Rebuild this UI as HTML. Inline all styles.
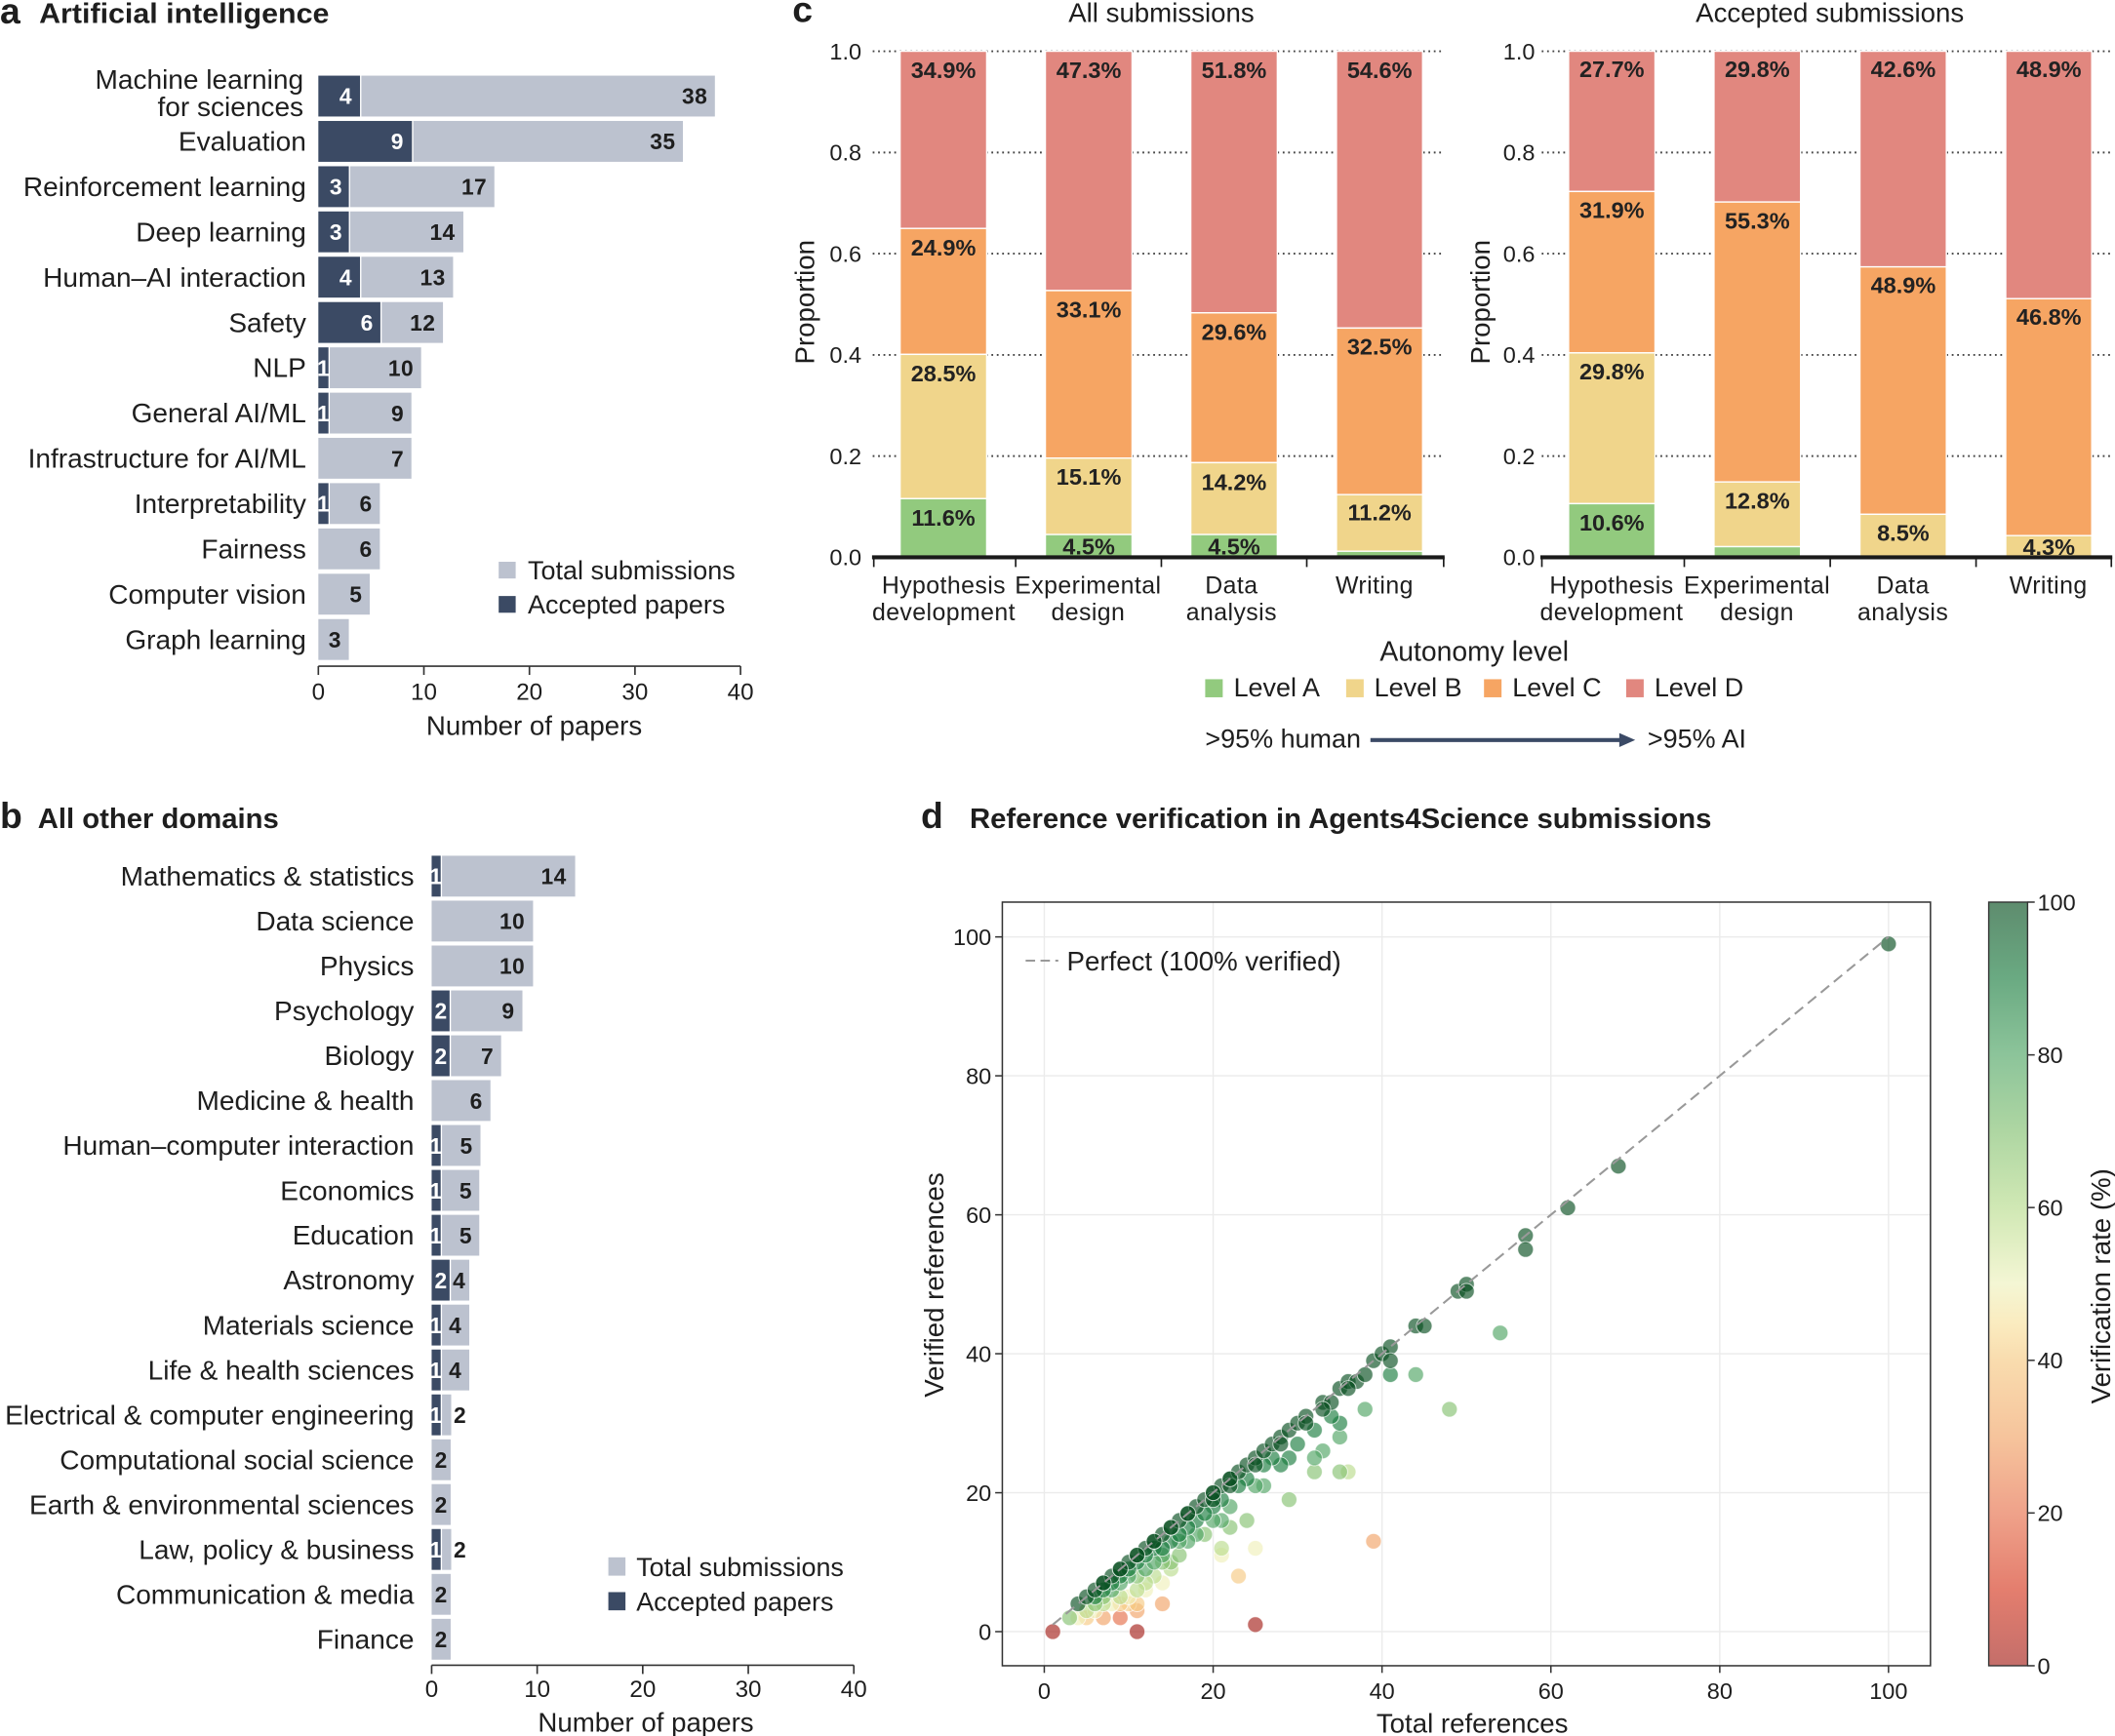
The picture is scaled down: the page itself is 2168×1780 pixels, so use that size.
<!DOCTYPE html>
<html><head><meta charset="utf-8"><style>
html,body{margin:0;padding:0;background:#fff;}
svg{display:block;}
text{font-family:"Liberation Sans",Arial,sans-serif;fill:#1e1e1e;}
.lab{font-size:20.3px;text-anchor:end;}
.nb{font-size:16.5px;font-weight:bold;letter-spacing:0.3px;}
.nw{font-size:16.5px;font-weight:bold;fill:#fff;}
.tk{font-size:17.5px;text-anchor:middle;}
.pc{font-size:17px;font-weight:bold;text-anchor:middle;fill:#222;}
.cat{font-size:18px;text-anchor:middle;letter-spacing:0.3px;}
.ytk{font-size:17px;text-anchor:end;}
.dtk{font-size:17px;}
</style></head><body>
<svg xmlns="http://www.w3.org/2000/svg" width="2168" height="1780" viewBox="0 0 1568 1287.4">
<defs>
<linearGradient id="cb" x1="0" y1="0" x2="0" y2="1">
<stop offset="0" stop-color="#5e8c6e"/>
<stop offset="0.1" stop-color="#6aaa82"/>
<stop offset="0.2" stop-color="#8cc49a"/>
<stop offset="0.3" stop-color="#aed6a2"/>
<stop offset="0.4" stop-color="#d0e8b4"/>
<stop offset="0.5" stop-color="#f4f6d4"/>
<stop offset="0.55" stop-color="#faecc0"/>
<stop offset="0.6" stop-color="#f9dcae"/>
<stop offset="0.7" stop-color="#f6c49c"/>
<stop offset="0.8" stop-color="#efa28a"/>
<stop offset="0.9" stop-color="#e47e6e"/>
<stop offset="1" stop-color="#c46e6a"/>
</linearGradient>
</defs>

<!-- ================= PANEL A ================= -->
<text x="0" y="17.5" font-size="27" font-weight="bold">a</text>
<text x="29" y="17" font-size="21" font-weight="bold" textLength="215" lengthAdjust="spacingAndGlyphs">Artificial intelligence</text>

<g fill="#bcc2cf">
<rect x="267.9" y="56.1" width="262.1" height="30.3"/>
<rect x="306.4" y="89.7" width="199.9" height="30.3"/>
<rect x="259.6" y="123.3" width="106.9" height="30.3"/>
<rect x="259.6" y="156.8" width="83.9" height="30.3"/>
<rect x="267.9" y="190.4" width="68" height="30.3"/>
<rect x="283" y="224" width="45.4" height="30.3"/>
<rect x="244.5" y="257.6" width="67.7" height="30.3"/>
<rect x="244.5" y="291.2" width="60.5" height="30.3"/>
<rect x="236" y="324.7" width="69" height="30.3"/>
<rect x="244.5" y="358.3" width="37.1" height="30.3"/>
<rect x="236" y="391.9" width="45.6" height="30.3"/>
<rect x="236" y="425.5" width="38.1" height="30.3"/>
<rect x="236" y="459.1" width="22.6" height="30.3"/>
</g>
<g fill="#3b4a64">
<rect x="236" y="56.1" width="30.9" height="30.3"/>
<rect x="236" y="89.7" width="69.4" height="30.3"/>
<rect x="236" y="123.3" width="22.6" height="30.3"/>
<rect x="236" y="156.8" width="22.6" height="30.3"/>
<rect x="236" y="190.4" width="30.9" height="30.3"/>
<rect x="236" y="224" width="46" height="30.3"/>
<rect x="236" y="257.6" width="7.5" height="30.3"/>
<rect x="236" y="291.2" width="7.5" height="30.3"/>
<rect x="236" y="358.3" width="7.5" height="30.3"/>
</g>
<g class="lab">
<text class="lab" x="225" y="65.9">Machine learning</text>
<text class="lab" x="225" y="86.1">for sciences</text>
<text class="lab" x="227" y="111.8">Evaluation</text>
<text class="lab" x="227" y="145.4">Reinforcement learning</text>
<text class="lab" x="227" y="179">Deep learning</text>
<text class="lab" x="227" y="212.5">Human–AI interaction</text>
<text class="lab" x="227" y="246.1">Safety</text>
<text class="lab" x="227" y="279.7">NLP</text>
<text class="lab" x="227" y="313.3">General AI/ML</text>
<text class="lab" x="227" y="346.9">Infrastructure for AI/ML</text>
<text class="lab" x="227" y="380.4">Interpretability</text>
<text class="lab" x="227" y="414">Fairness</text>
<text class="lab" x="227" y="447.6">Computer vision</text>
<text class="lab" x="227" y="481.2">Graph learning</text>
</g>
<g text-anchor="end">
<text class="nw" x="260.8" y="77.2">4</text>
<text class="nb" x="524.5" y="77.2">38</text>
<text class="nw" x="299" y="110.8">9</text>
<text class="nb" x="500.8" y="110.8">35</text>
<text class="nw" x="253.5" y="144.4">3</text>
<text class="nb" x="361" y="144.4">17</text>
<text class="nw" x="253.5" y="178">3</text>
<text class="nb" x="337.5" y="178">14</text>
<text class="nw" x="260.8" y="211.5">4</text>
<text class="nb" x="330.3" y="211.5">13</text>
<text class="nw" x="276.5" y="245.1">6</text>
<text class="nb" x="322.8" y="245.1">12</text>
<text class="nb" x="306.7" y="278.7">10</text>
<text class="nb" x="299.5" y="312.3">9</text>
<text class="nb" x="299.5" y="345.9">7</text>
<text class="nb" x="276" y="379.4">6</text>
<text class="nb" x="276" y="413">6</text>
<text class="nb" x="268.6" y="446.6">5</text>
<text class="nb" x="253" y="480.2">3</text>
</g>
<g text-anchor="middle">
<text class="nw" x="239.6" y="278.7" text-anchor="middle">1</text>
<text class="nw" x="239.6" y="312.3" text-anchor="middle">1</text>
<text class="nw" x="239.6" y="379.4" text-anchor="middle">1</text>
</g>
<rect x="369.7" y="416.6" width="12.6" height="12.4" fill="#bcc2cf"/>
<text x="391.3" y="429.5" font-size="19.5">Total submissions</text>
<rect x="369.7" y="442" width="12.6" height="12.4" fill="#3b4a64"/>
<text x="391.3" y="455" font-size="19.5">Accepted papers</text>
<g stroke="#333" stroke-width="1.2">
<line x1="236" y1="494" x2="549" y2="494"/>
<line x1="236" y1="494" x2="236" y2="500.5"/>
<line x1="314.25" y1="494" x2="314.25" y2="500.5"/>
<line x1="392.5" y1="494" x2="392.5" y2="500.5"/>
<line x1="470.75" y1="494" x2="470.75" y2="500.5"/>
<line x1="549" y1="494" x2="549" y2="500.5"/>
</g>
<text class="tk" x="236" y="519">0</text>
<text class="tk" x="314.25" y="519">10</text>
<text class="tk" x="392.5" y="519">20</text>
<text class="tk" x="470.75" y="519">30</text>
<text class="tk" x="549" y="519">40</text>
<text x="396" y="545" font-size="20" text-anchor="middle">Number of papers</text>

<!-- ================= PANEL B ================= -->
<text x="0" y="614" font-size="27" font-weight="bold">b</text>
<text x="28" y="614" font-size="21" font-weight="bold" textLength="178.7" lengthAdjust="spacingAndGlyphs">All other domains</text>
<g fill="#bcc2cf">
<rect x="327.7" y="634.6" width="98.7" height="30.3"/>
<rect x="320" y="667.9" width="75.2" height="30.3"/>
<rect x="320" y="701.2" width="75.2" height="30.3"/>
<rect x="334.3" y="734.5" width="53" height="30.3"/>
<rect x="334.3" y="767.8" width="37.2" height="30.3"/>
<rect x="320" y="801" width="43.6" height="30.3"/>
<rect x="327.7" y="834.3" width="28.5" height="30.3"/>
<rect x="327.7" y="867.6" width="27.6" height="30.3"/>
<rect x="327.7" y="900.9" width="27.6" height="30.3"/>
<rect x="334.3" y="934.2" width="13.6" height="30.3"/>
<rect x="327.7" y="967.5" width="20.2" height="30.3"/>
<rect x="327.7" y="1000.8" width="20.2" height="30.3"/>
<rect x="327.7" y="1034.1" width="6.8" height="30.3"/>
<rect x="320" y="1067.4" width="14.1" height="30.3"/>
<rect x="320" y="1100.6" width="14.1" height="30.3"/>
<rect x="327.7" y="1133.9" width="6.8" height="30.3"/>
<rect x="320" y="1167.2" width="14.1" height="30.3"/>
<rect x="320" y="1200.5" width="14.1" height="30.3"/>
</g>
<g fill="#3b4a64">
<rect x="320" y="634.6" width="6.7" height="30.3"/>
<rect x="320" y="734.5" width="13.3" height="30.3"/>
<rect x="320" y="767.8" width="13.3" height="30.3"/>
<rect x="320" y="834.3" width="6.7" height="30.3"/>
<rect x="320" y="867.6" width="6.7" height="30.3"/>
<rect x="320" y="900.9" width="6.7" height="30.3"/>
<rect x="320" y="934.2" width="13.3" height="30.3"/>
<rect x="320" y="967.5" width="6.7" height="30.3"/>
<rect x="320" y="1000.8" width="6.7" height="30.3"/>
<rect x="320" y="1034.1" width="6.7" height="30.3"/>
<rect x="320" y="1133.9" width="6.7" height="30.3"/>
</g>
<text class="lab" x="307" y="656.75">Mathematics &amp; statistics</text>
<text class="lab" x="307" y="690">Data science</text>
<text class="lab" x="307" y="723.3">Physics</text>
<text class="lab" x="307" y="756.6">Psychology</text>
<text class="lab" x="307" y="789.9">Biology</text>
<text class="lab" x="307" y="823.2">Medicine &amp; health</text>
<text class="lab" x="307" y="856.5">Human–computer interaction</text>
<text class="lab" x="307" y="889.8">Economics</text>
<text class="lab" x="307" y="923">Education</text>
<text class="lab" x="307" y="956.3">Astronomy</text>
<text class="lab" x="307" y="989.6">Materials science</text>
<text class="lab" x="307" y="1022.9">Life &amp; health sciences</text>
<text class="lab" x="307" y="1056.2">Electrical &amp; computer engineering</text>
<text class="lab" x="307" y="1089.5">Computational social science</text>
<text class="lab" x="307" y="1122.8">Earth &amp; environmental sciences</text>
<text class="lab" x="307" y="1156.1">Law, policy &amp; business</text>
<text class="lab" x="307" y="1189.4">Communication &amp; media</text>
<text class="lab" x="307" y="1222.7">Finance</text>
<g text-anchor="end">
<text class="nb" x="420" y="655.75">14</text>
<text class="nb" x="389.2" y="689">10</text>
<text class="nb" x="389.2" y="722.3">10</text>
<text class="nb" x="381.5" y="755.6">9</text>
<text class="nb" x="366" y="788.9">7</text>
<text class="nb" x="357.8" y="822.2">6</text>
<text class="nb" x="350.5" y="855.5">5</text>
<text class="nb" x="350" y="888.8">5</text>
<text class="nb" x="350" y="922">5</text>
</g>
<g text-anchor="middle">
<text class="nb" x="340.4" y="955.3" text-anchor="middle">4</text>
<text class="nb" x="337.5" y="988.6" text-anchor="middle">4</text>
<text class="nb" x="337.5" y="1021.9" text-anchor="middle">4</text>
<text class="nb" x="341" y="1055.2" text-anchor="middle">2</text>
<text class="nb" x="327" y="1088.5" text-anchor="middle">2</text>
<text class="nb" x="327" y="1121.8" text-anchor="middle">2</text>
<text class="nb" x="341" y="1155.1" text-anchor="middle">2</text>
<text class="nb" x="327" y="1188.4" text-anchor="middle">2</text>
<text class="nb" x="327" y="1221.7" text-anchor="middle">2</text>
<text class="nw" x="323" y="655.75" text-anchor="middle">1</text>
<text class="nw" x="326.8" y="755.6" text-anchor="middle">2</text>
<text class="nw" x="326.8" y="788.9" text-anchor="middle">2</text>
<text class="nw" x="323" y="855.5" text-anchor="middle">1</text>
<text class="nw" x="323" y="888.8" text-anchor="middle">1</text>
<text class="nw" x="323" y="922" text-anchor="middle">1</text>
<text class="nw" x="326.8" y="955.3" text-anchor="middle">2</text>
<text class="nw" x="323" y="988.6" text-anchor="middle">1</text>
<text class="nw" x="323" y="1021.9" text-anchor="middle">1</text>
<text class="nw" x="323" y="1055.2" text-anchor="middle">1</text>
<text class="nw" x="323" y="1155.1" text-anchor="middle">1</text>
</g>
<rect x="451" y="1154.9" width="12.7" height="13.6" fill="#bcc2cf"/>
<text x="471.7" y="1168.7" font-size="19.5">Total submissions</text>
<rect x="451" y="1180.7" width="12.7" height="13.5" fill="#3b4a64"/>
<text x="471.7" y="1194.5" font-size="19.5">Accepted papers</text>
<g stroke="#333" stroke-width="1.2">
<line x1="320" y1="1234.9" x2="633" y2="1234.9"/>
<line x1="320" y1="1234.9" x2="320" y2="1241.4"/>
<line x1="398.25" y1="1234.9" x2="398.25" y2="1241.4"/>
<line x1="476.5" y1="1234.9" x2="476.5" y2="1241.4"/>
<line x1="554.75" y1="1234.9" x2="554.75" y2="1241.4"/>
<line x1="633" y1="1234.9" x2="633" y2="1241.4"/>
</g>
<text class="tk" x="320" y="1258.5">0</text>
<text class="tk" x="398.25" y="1258.5">10</text>
<text class="tk" x="476.5" y="1258.5">20</text>
<text class="tk" x="554.75" y="1258.5">30</text>
<text class="tk" x="633" y="1258.5">40</text>
<text x="478.8" y="1284" font-size="20" text-anchor="middle">Number of papers</text>

<!-- ================= PANEL C ================= -->
<text x="587.5" y="16.3" font-size="27" font-weight="bold">c</text>
<text x="861" y="16.3" font-size="20" text-anchor="middle">All submissions</text>
<text x="1356.6" y="16.3" font-size="20" text-anchor="middle">Accepted submissions</text>

<g stroke="#444" stroke-width="1.4" stroke-dasharray="1.3 2.7">
<line x1="647" y1="38" x2="1070" y2="38"/>
<line x1="647" y1="113.1" x2="1070" y2="113.1"/>
<line x1="647" y1="188.1" x2="1070" y2="188.1"/>
<line x1="647" y1="263.2" x2="1070" y2="263.2"/>
<line x1="647" y1="338.2" x2="1070" y2="338.2"/>
<line x1="1143" y1="38" x2="1566" y2="38"/>
<line x1="1143" y1="113.1" x2="1566" y2="113.1"/>
<line x1="1143" y1="188.1" x2="1566" y2="188.1"/>
<line x1="1143" y1="263.2" x2="1566" y2="263.2"/>
<line x1="1143" y1="338.2" x2="1566" y2="338.2"/>
</g>
<g class="ytk">
<text class="ytk" x="638.7" y="44">1.0</text>
<text class="ytk" x="638.7" y="119.1">0.8</text>
<text class="ytk" x="638.7" y="194.1">0.6</text>
<text class="ytk" x="638.7" y="269.2">0.4</text>
<text class="ytk" x="638.7" y="344.2">0.2</text>
<text class="ytk" x="638.7" y="419.3">0.0</text>
<text class="ytk" x="1138" y="44">1.0</text>
<text class="ytk" x="1138" y="119.1">0.8</text>
<text class="ytk" x="1138" y="194.1">0.6</text>
<text class="ytk" x="1138" y="269.2">0.4</text>
<text class="ytk" x="1138" y="344.2">0.2</text>
<text class="ytk" x="1138" y="419.3">0.0</text>
</g>
<text transform="translate(603.5,224) rotate(-90)" font-size="20" text-anchor="middle">Proportion</text>
<text transform="translate(1104.5,224) rotate(-90)" font-size="20" text-anchor="middle">Proportion</text>

<g stroke="#fff" stroke-width="1">
<rect x="667.3" y="38" width="64.2" height="131.4" fill="#e1877f"/>
<rect x="667.3" y="169.4" width="64.2" height="93.4" fill="#f6a563"/>
<rect x="667.3" y="262.8" width="64.2" height="107" fill="#f0d58b"/>
<rect x="667.3" y="369.8" width="64.2" height="43.5" fill="#92ca7e"/>
<rect x="775" y="38" width="64.3" height="177.5" fill="#e1877f"/>
<rect x="775" y="215.5" width="64.3" height="124.2" fill="#f6a563"/>
<rect x="775" y="339.7" width="64.3" height="56.7" fill="#f0d58b"/>
<rect x="775" y="396.4" width="64.3" height="16.9" fill="#92ca7e"/>
<rect x="882.8" y="38" width="64.2" height="194" fill="#e1877f"/>
<rect x="882.8" y="232" width="64.2" height="111.1" fill="#f6a563"/>
<rect x="882.8" y="343.1" width="64.2" height="53.3" fill="#f0d58b"/>
<rect x="882.8" y="396.4" width="64.2" height="16.9" fill="#92ca7e"/>
<rect x="990.8" y="38" width="63.9" height="205.3" fill="#e1877f"/>
<rect x="990.8" y="243.3" width="63.9" height="123.5" fill="#f6a563"/>
<rect x="990.8" y="366.8" width="63.9" height="42" fill="#f0d58b"/>
<rect x="990.8" y="408.8" width="63.9" height="4.5" fill="#92ca7e"/>
<rect x="1162.9" y="38" width="64.1" height="104" fill="#e1877f"/>
<rect x="1162.9" y="142" width="64.1" height="119.7" fill="#f6a563"/>
<rect x="1162.9" y="261.7" width="64.1" height="111.8" fill="#f0d58b"/>
<rect x="1162.9" y="373.5" width="64.1" height="39.8" fill="#92ca7e"/>
<rect x="1270.7" y="38" width="64.2" height="111.8" fill="#e1877f"/>
<rect x="1270.7" y="149.8" width="64.2" height="207.6" fill="#f6a563"/>
<rect x="1270.7" y="357.4" width="64.2" height="48" fill="#f0d58b"/>
<rect x="1270.7" y="405.4" width="64.2" height="7.9" fill="#92ca7e"/>
<rect x="1378.9" y="38" width="64.1" height="159.9" fill="#e1877f"/>
<rect x="1378.9" y="197.9" width="64.1" height="183.5" fill="#f6a563"/>
<rect x="1378.9" y="381.4" width="64.1" height="31.9" fill="#f0d58b"/>
<rect x="1487" y="38" width="63.8" height="183.5" fill="#e1877f"/>
<rect x="1487" y="221.5" width="63.8" height="175.7" fill="#f6a563"/>
<rect x="1487" y="397.2" width="63.8" height="16.1" fill="#f0d58b"/>
</g>
<g class="pc">
<text class="pc" x="699.4" y="58">34.9%</text>
<text class="pc" x="699.4" y="189.4">24.9%</text>
<text class="pc" x="699.4" y="282.8">28.5%</text>
<text class="pc" x="699.4" y="389.8">11.6%</text>
<text class="pc" x="807.2" y="58">47.3%</text>
<text class="pc" x="807.2" y="235.5">33.1%</text>
<text class="pc" x="807.2" y="359.3">15.1%</text>
<text class="pc" x="807.2" y="411">4.5%</text>
<text class="pc" x="914.9" y="58">51.8%</text>
<text class="pc" x="914.9" y="252">29.6%</text>
<text class="pc" x="914.9" y="363.5">14.2%</text>
<text class="pc" x="914.9" y="411">4.5%</text>
<text class="pc" x="1022.8" y="58">54.6%</text>
<text class="pc" x="1022.8" y="263">32.5%</text>
<text class="pc" x="1022.8" y="386">11.2%</text>
<text class="pc" x="1195" y="57">27.7%</text>
<text class="pc" x="1195" y="161.5">31.9%</text>
<text class="pc" x="1195" y="281.5">29.8%</text>
<text class="pc" x="1195" y="393.5">10.6%</text>
<text class="pc" x="1302.8" y="57">29.8%</text>
<text class="pc" x="1302.8" y="169.5">55.3%</text>
<text class="pc" x="1302.8" y="377">12.8%</text>
<text class="pc" x="1411" y="57">42.6%</text>
<text class="pc" x="1411" y="217.5">48.9%</text>
<text class="pc" x="1411" y="401">8.5%</text>
<text class="pc" x="1519" y="57">48.9%</text>
<text class="pc" x="1519" y="241">46.8%</text>
<text class="pc" x="1519" y="411.5">4.3%</text>
</g>
<g stroke="#1a1a1a">
<line x1="646.5" y1="413.3" x2="1071" y2="413.3" stroke-width="3"/>
<line x1="1142" y1="413.3" x2="1566" y2="413.3" stroke-width="3"/>
<g stroke-width="1.2">
<line x1="647.8" y1="413" x2="647.8" y2="420.5"/>
<line x1="753" y1="413" x2="753" y2="420.5"/>
<line x1="861" y1="413" x2="861" y2="420.5"/>
<line x1="968.8" y1="413" x2="968.8" y2="420.5"/>
<line x1="1070.3" y1="413" x2="1070.3" y2="420.5"/>
<line x1="1143.1" y1="413" x2="1143.1" y2="420.5"/>
<line x1="1248.7" y1="413" x2="1248.7" y2="420.5"/>
<line x1="1356.9" y1="413" x2="1356.9" y2="420.5"/>
<line x1="1465" y1="413" x2="1465" y2="420.5"/>
<line x1="1565.3" y1="413" x2="1565.3" y2="420.5"/>
</g>
</g>
<g class="cat">
<text class="cat" x="699.7" y="440">Hypothesis</text>
<text class="cat" x="699.7" y="460">development</text>
<text class="cat" x="806.7" y="440">Experimental</text>
<text class="cat" x="806.7" y="460">design</text>
<text class="cat" x="913" y="440">Data</text>
<text class="cat" x="913" y="460">analysis</text>
<text class="cat" x="1019" y="440">Writing</text>
<text class="cat" x="1194.8" y="440">Hypothesis</text>
<text class="cat" x="1194.8" y="460">development</text>
<text class="cat" x="1302.6" y="440">Experimental</text>
<text class="cat" x="1302.6" y="460">design</text>
<text class="cat" x="1410.8" y="440">Data</text>
<text class="cat" x="1410.8" y="460">analysis</text>
<text class="cat" x="1518.6" y="440">Writing</text>
</g>
<text x="1093" y="490" font-size="20.5" text-anchor="middle">Autonomy level</text>
<rect x="893.5" y="503.7" width="13" height="13.4" fill="#92ca7e"/>
<text x="914.6" y="516.5" font-size="19.5">Level A</text>
<rect x="998" y="503.7" width="13" height="13.4" fill="#f0d58b"/>
<text x="1018.8" y="516.5" font-size="19.5">Level B</text>
<rect x="1100.2" y="503.7" width="13" height="13.4" fill="#f6a563"/>
<text x="1121.2" y="516.5" font-size="19.5">Level C</text>
<rect x="1205.6" y="503.7" width="13" height="13.4" fill="#e1877f"/>
<text x="1226.5" y="516.5" font-size="19.5">Level D</text>
<text x="893.5" y="554.5" font-size="19.5">&gt;95% human</text>
<line x1="1016" y1="548.8" x2="1203" y2="548.8" stroke="#3b4a66" stroke-width="3"/>
<polygon points="1212.3,548.8 1200.5,543.6 1200.5,554" fill="#3b4a66"/>
<text x="1221.5" y="554.5" font-size="19.5">&gt;95% AI</text>

<!-- ================= PANEL D ================= -->
<text x="682.7" y="614" font-size="27" font-weight="bold">d</text>
<text x="718.9" y="614" font-size="21" font-weight="bold" textLength="550" lengthAdjust="spacingAndGlyphs">Reference verification in Agents4Science submissions</text>

<g stroke="#ebebeb" stroke-width="1">
<line x1="774.2" y1="669" x2="774.2" y2="1235.3"/>
<line x1="899.4" y1="669" x2="899.4" y2="1235.3"/>
<line x1="1024.6" y1="669" x2="1024.6" y2="1235.3"/>
<line x1="1149.8" y1="669" x2="1149.8" y2="1235.3"/>
<line x1="1275" y1="669" x2="1275" y2="1235.3"/>
<line x1="1400.1" y1="669" x2="1400.1" y2="1235.3"/>
<line x1="743.1" y1="694.8" x2="1431.2" y2="694.8"/>
<line x1="743.1" y1="797.8" x2="1431.2" y2="797.8"/>
<line x1="743.1" y1="900.9" x2="1431.2" y2="900.9"/>
<line x1="743.1" y1="1003.9" x2="1431.2" y2="1003.9"/>
<line x1="743.1" y1="1107" x2="1431.2" y2="1107"/>
<line x1="743.1" y1="1210" x2="1431.2" y2="1210"/>
</g>

<g fill-opacity="0.65" stroke="#fff" stroke-width="0.7" stroke-opacity="0.7">
<g fill="#a4201a">
<circle cx="780.5" cy="1210" r="5.8"/><circle cx="843" cy="1210" r="5.8"/><circle cx="930.7" cy="1204.8" r="5.8"/>
</g>
<g fill="#e56e4a"><circle cx="830.5" cy="1199.7" r="5.8"/></g>
<g fill="#f1a367">
<circle cx="818" cy="1199.7" r="5.8"/><circle cx="843" cy="1194.5" r="5.8"/><circle cx="861.8" cy="1189.4" r="5.8"/><circle cx="1018.3" cy="1143" r="5.8"/>
</g>
<g fill="#f6c982">
<circle cx="918.2" cy="1168.8" r="5.8"/><circle cx="836.8" cy="1189.4" r="5.8"/><circle cx="843" cy="1189.4" r="5.8"/><circle cx="805.5" cy="1199.7" r="5.8"/><circle cx="830.5" cy="1189.4" r="5.8"/>
</g>
<g fill="#f0f0ba">
<circle cx="930.7" cy="1148.2" r="5.8"/><circle cx="905.6" cy="1153.3" r="5.8"/><circle cx="824.3" cy="1189.4" r="5.8"/><circle cx="836.8" cy="1184.2" r="5.8"/><circle cx="849.3" cy="1179.1" r="5.8"/><circle cx="861.8" cy="1173.9" r="5.8"/><circle cx="811.8" cy="1194.5" r="5.8"/><circle cx="799.2" cy="1199.7" r="5.8"/>
</g>
<g fill="#badc8d">
<circle cx="805.5" cy="1194.5" r="5.8"/><circle cx="905.6" cy="1148.2" r="5.8"/><circle cx="868.1" cy="1163.6" r="5.8"/><circle cx="855.6" cy="1168.8" r="5.8"/><circle cx="849.3" cy="1173.9" r="5.8"/><circle cx="830.5" cy="1184.2" r="5.8"/><circle cx="999.5" cy="1091.5" r="5.8"/><circle cx="818" cy="1189.4" r="5.8"/><circle cx="843" cy="1179.1" r="5.8"/>
</g>
<g fill="#86c272">
<circle cx="793" cy="1199.7" r="5.8"/><circle cx="924.4" cy="1127.6" r="5.8"/><circle cx="955.7" cy="1112.1" r="5.8"/><circle cx="911.9" cy="1132.7" r="5.8"/><circle cx="868.1" cy="1158.5" r="5.8"/><circle cx="874.3" cy="1153.3" r="5.8"/><circle cx="993.3" cy="1091.5" r="5.8"/><circle cx="974.5" cy="1091.5" r="5.8"/><circle cx="1074.6" cy="1045.1" r="5.8"/><circle cx="893.1" cy="1137.9" r="5.8"/><circle cx="843" cy="1168.8" r="5.8"/><circle cx="861.8" cy="1158.5" r="5.8"/><circle cx="818" cy="1184.2" r="5.8"/><circle cx="811.8" cy="1189.4" r="5.8"/>
</g>
<g fill="#50a464">
<circle cx="905.6" cy="1127.6" r="5.8"/><circle cx="886.9" cy="1137.9" r="5.8"/><circle cx="1112.2" cy="988.5" r="5.8"/><circle cx="1012" cy="1045.1" r="5.8"/><circle cx="980.7" cy="1076" r="5.8"/><circle cx="974.5" cy="1081.2" r="5.8"/><circle cx="993.3" cy="1065.7" r="5.8"/><circle cx="899.4" cy="1127.6" r="5.8"/><circle cx="880.6" cy="1143" r="5.8"/><circle cx="861.8" cy="1153.3" r="5.8"/><circle cx="849.3" cy="1163.6" r="5.8"/><circle cx="836.8" cy="1168.8" r="5.8"/><circle cx="874.3" cy="1143" r="5.8"/><circle cx="911.9" cy="1117.3" r="5.8"/><circle cx="936.9" cy="1101.8" r="5.8"/><circle cx="930.7" cy="1101.8" r="5.8"/><circle cx="1049.6" cy="1019.4" r="5.8"/><circle cx="824.3" cy="1179.1" r="5.8"/><circle cx="855.6" cy="1158.5" r="5.8"/><circle cx="830.5" cy="1173.9" r="5.8"/>
</g>
<g fill="#1a7c3f">
<circle cx="1030.8" cy="1019.4" r="5.8"/><circle cx="993.3" cy="1055.4" r="5.8"/><circle cx="962" cy="1070.9" r="5.8"/><circle cx="974.5" cy="1060.6" r="5.8"/><circle cx="987" cy="1050.3" r="5.8"/><circle cx="955.7" cy="1081.2" r="5.8"/><circle cx="949.5" cy="1086.4" r="5.8"/><circle cx="855.6" cy="1148.2" r="5.8"/><circle cx="924.4" cy="1096.7" r="5.8"/><circle cx="918.2" cy="1101.8" r="5.8"/><circle cx="905.6" cy="1112.1" r="5.8"/><circle cx="886.9" cy="1127.6" r="5.8"/><circle cx="880.6" cy="1132.7" r="5.8"/><circle cx="868.1" cy="1143" r="5.8"/><circle cx="843" cy="1158.5" r="5.8"/><circle cx="830.5" cy="1168.8" r="5.8"/><circle cx="943.2" cy="1081.2" r="5.8"/><circle cx="936.9" cy="1086.4" r="5.8"/><circle cx="899.4" cy="1117.3" r="5.8"/><circle cx="874.3" cy="1137.9" r="5.8"/><circle cx="861.8" cy="1148.2" r="5.8"/><circle cx="849.3" cy="1153.3" r="5.8"/><circle cx="836.8" cy="1163.6" r="5.8"/><circle cx="824.3" cy="1173.9" r="5.8"/><circle cx="893.1" cy="1122.4" r="5.8"/><circle cx="811.8" cy="1184.2" r="5.8"/><circle cx="818" cy="1179.1" r="5.8"/>
</g>
<g fill="#074e20">
<circle cx="799.2" cy="1189.4" r="5.8"/><circle cx="805.5" cy="1184.2" r="5.8"/><circle cx="811.8" cy="1179.1" r="5.8"/><circle cx="818" cy="1173.9" r="5.8"/><circle cx="824.3" cy="1168.8" r="5.8"/><circle cx="830.5" cy="1163.6" r="5.8"/><circle cx="836.8" cy="1158.5" r="5.8"/><circle cx="843" cy="1153.3" r="5.8"/><circle cx="849.3" cy="1148.2" r="5.8"/><circle cx="855.6" cy="1143" r="5.8"/><circle cx="861.8" cy="1137.9" r="5.8"/><circle cx="868.1" cy="1132.7" r="5.8"/><circle cx="874.3" cy="1127.6" r="5.8"/><circle cx="880.6" cy="1122.4" r="5.8"/><circle cx="886.9" cy="1117.3" r="5.8"/><circle cx="893.1" cy="1112.1" r="5.8"/><circle cx="899.4" cy="1107" r="5.8"/><circle cx="905.6" cy="1101.8" r="5.8"/><circle cx="911.9" cy="1096.7" r="5.8"/><circle cx="918.2" cy="1091.5" r="5.8"/><circle cx="924.4" cy="1086.4" r="5.8"/><circle cx="930.7" cy="1081.2" r="5.8"/><circle cx="936.9" cy="1076" r="5.8"/><circle cx="943.2" cy="1070.9" r="5.8"/><circle cx="949.5" cy="1065.7" r="5.8"/><circle cx="955.7" cy="1060.6" r="5.8"/><circle cx="962" cy="1055.4" r="5.8"/><circle cx="968.2" cy="1050.3" r="5.8"/><circle cx="980.7" cy="1040" r="5.8"/><circle cx="987" cy="1040" r="5.8"/><circle cx="980.7" cy="1045.1" r="5.8"/><circle cx="993.3" cy="1029.7" r="5.8"/><circle cx="999.5" cy="1024.5" r="5.8"/><circle cx="1005.8" cy="1024.5" r="5.8"/><circle cx="1012" cy="1019.4" r="5.8"/><circle cx="1018.3" cy="1009.1" r="5.8"/><circle cx="1024.6" cy="1003.9" r="5.8"/><circle cx="1030.8" cy="998.8" r="5.8"/><circle cx="1030.8" cy="1009.1" r="5.8"/><circle cx="1049.6" cy="983.3" r="5.8"/><circle cx="1055.9" cy="983.3" r="5.8"/><circle cx="1080.9" cy="957.6" r="5.8"/><circle cx="1087.2" cy="952.4" r="5.8"/><circle cx="1087.2" cy="957.6" r="5.8"/><circle cx="1131" cy="916.3" r="5.8"/><circle cx="1131" cy="926.6" r="5.8"/><circle cx="1162.3" cy="895.7" r="5.8"/><circle cx="1199.8" cy="864.8" r="5.8"/><circle cx="1400.1" cy="700" r="5.8"/>
<circle cx="899.4" cy="1112.1" r="5.8"/><circle cx="911.9" cy="1101.8" r="5.8"/><circle cx="930.7" cy="1086.4" r="5.8"/><circle cx="949.5" cy="1070.9" r="5.8"/><circle cx="968.2" cy="1055.4" r="5.8"/><circle cx="999.5" cy="1029.7" r="5.8"/>
<circle cx="818" cy="1173.9" r="5.8"/><circle cx="830.5" cy="1163.6" r="5.8"/><circle cx="843" cy="1153.3" r="5.8"/><circle cx="855.6" cy="1143" r="5.8"/><circle cx="868.1" cy="1132.7" r="5.8"/><circle cx="880.6" cy="1122.4" r="5.8"/><circle cx="899.4" cy="1107" r="5.8"/><circle cx="911.9" cy="1096.7" r="5.8"/>
</g>
</g>

<line x1="780.5" y1="1204.8" x2="1400.1" y2="694.8" stroke="#999" stroke-width="1.5" stroke-dasharray="8 4.5"/>
<line x1="760.4" y1="712.4" x2="784.6" y2="712.4" stroke="#999" stroke-width="1.5" stroke-dasharray="7 4"/>
<text x="790.9" y="719.5" font-size="20">Perfect (100% verified)</text>

<rect x="743.1" y="669" width="688.1" height="566.3" fill="none" stroke="#333" stroke-width="1.1"/>
<g stroke="#333" stroke-width="1.1">
<line x1="774.2" y1="1235.3" x2="774.2" y2="1240.6"/>
<line x1="899.4" y1="1235.3" x2="899.4" y2="1240.6"/>
<line x1="1024.6" y1="1235.3" x2="1024.6" y2="1240.6"/>
<line x1="1149.8" y1="1235.3" x2="1149.8" y2="1240.6"/>
<line x1="1275" y1="1235.3" x2="1275" y2="1240.6"/>
<line x1="1400.1" y1="1235.3" x2="1400.1" y2="1240.6"/>
<line x1="737.8" y1="694.8" x2="743.1" y2="694.8"/>
<line x1="737.8" y1="797.8" x2="743.1" y2="797.8"/>
<line x1="737.8" y1="900.9" x2="743.1" y2="900.9"/>
<line x1="737.8" y1="1003.9" x2="743.1" y2="1003.9"/>
<line x1="737.8" y1="1107" x2="743.1" y2="1107"/>
<line x1="737.8" y1="1210" x2="743.1" y2="1210"/>
</g>
<g text-anchor="middle">
<text class="dtk" x="774.2" y="1260" text-anchor="middle">0</text>
<text class="dtk" x="899.4" y="1260" text-anchor="middle">20</text>
<text class="dtk" x="1024.6" y="1260" text-anchor="middle">40</text>
<text class="dtk" x="1149.8" y="1260" text-anchor="middle">60</text>
<text class="dtk" x="1275" y="1260" text-anchor="middle">80</text>
<text class="dtk" x="1400.1" y="1260" text-anchor="middle">100</text>
</g>
<text class="ytk" x="735" y="700.8">100</text>
<text class="ytk" x="735" y="803.8">80</text>
<text class="ytk" x="735" y="906.9">60</text>
<text class="ytk" x="735" y="1009.9">40</text>
<text class="ytk" x="735" y="1113">20</text>
<text class="ytk" x="735" y="1216">0</text>
<text x="1091.5" y="1285" font-size="20" text-anchor="middle">Total references</text>
<text transform="translate(699.5,952.9) rotate(-90)" font-size="20" text-anchor="middle">Verified references</text>

<rect x="1474.4" y="669" width="28.8" height="566.3" fill="url(#cb)" stroke="#333" stroke-width="1"/>
<g stroke="#333" stroke-width="1.1">
<line x1="1503.2" y1="669" x2="1508.5" y2="669"/>
<line x1="1503.2" y1="782.3" x2="1508.5" y2="782.3"/>
<line x1="1503.2" y1="895.5" x2="1508.5" y2="895.5"/>
<line x1="1503.2" y1="1008.8" x2="1508.5" y2="1008.8"/>
<line x1="1503.2" y1="1122" x2="1508.5" y2="1122"/>
<line x1="1503.2" y1="1235.3" x2="1508.5" y2="1235.3"/>
</g>
<text class="dtk" x="1510.5" y="675">100</text>
<text class="dtk" x="1510.5" y="788.3">80</text>
<text class="dtk" x="1510.5" y="901.5">60</text>
<text class="dtk" x="1510.5" y="1014.8">40</text>
<text class="dtk" x="1510.5" y="1128">20</text>
<text class="dtk" x="1510.5" y="1241.3">0</text>
<text transform="translate(1564.5,953.8) rotate(-90)" font-size="20" text-anchor="middle">Verification rate (%)</text>
</svg>
</body></html>
